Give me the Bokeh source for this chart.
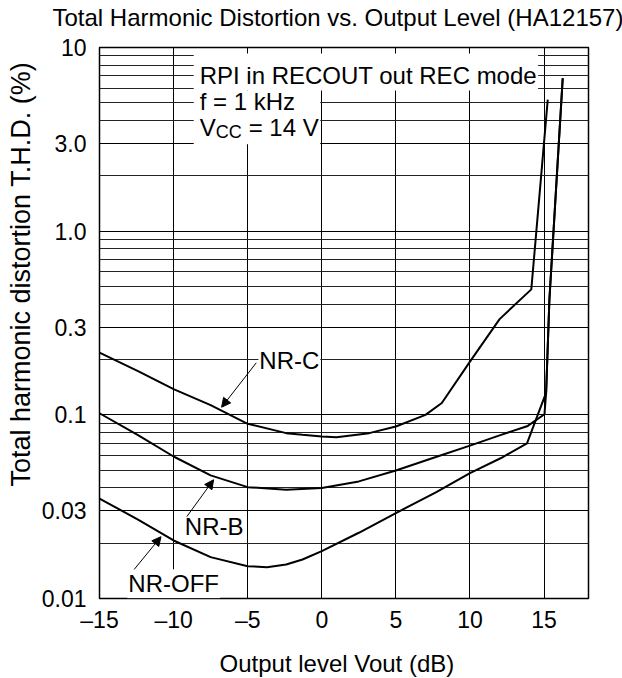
from bokeh.plotting import figure
from bokeh.models import FixedTicker, Label, Arrow, NormalHead, Title
from bokeh.embed import file_html
from bokeh.resources import INLINE

title_text = "Total Harmonic Distortion vs. Output Level (HA12157)"
x_label = "Output level Vout (dB)"
y_label = "Total harmonic distortion T.H.D. (%)"

x_ticks = [-15, -10, -5, 0, 5, 10, 15]
x_tick_labels = ["\u201315", "\u201310", "\u20135", "0", "5", "10", "15"]
y_ticks = [0.01, 0.03, 0.1, 0.3, 1, 3, 10]
y_tick_labels = ["0.01", "0.03", "0.1", "0.3", "1.0", "3.0", "10"]
y_minor = [0.02, 0.04, 0.05, 0.06, 0.07, 0.08, 0.09,
           0.2, 0.4, 0.5, 0.6, 0.7, 0.8, 0.9,
           2, 4, 5, 6, 7, 8, 9]

# NR-C
nrc_x = [-15, -12.4, -10, -7.5, -5, -2.4, -1.3, 0, 1, 3.2, 5, 7, 8.1, 10, 12, 14.14, 15.25]
nrc_y = [0.218, 0.173, 0.138, 0.113, 0.0894, 0.0795, 0.0778, 0.0762, 0.0756, 0.0795,
         0.0864, 0.100, 0.116, 0.195, 0.332, 0.482, 5.2]
# NR-B
nrb_x = [-15, -12.4, -10, -7.5, -5, -2.4, 0, 2.5, 5, 7.7, 10, 12.1, 13.9, 15.03, 15.14, 15.36, 16.26]
nrb_y = [0.102, 0.0776, 0.0593, 0.0468, 0.0404, 0.0391, 0.040, 0.0434, 0.0498, 0.0589,
         0.068, 0.0778, 0.087, 0.1008, 0.132, 0.422, 6.8]
# NR-OFF
nroff_x = [-15, -12.4, -10, -7.5, -5, -3.7, -2.4, -1.3, 0, 2.5, 5, 7.7, 10, 12.1, 13.85, 15.14, 15.36, 16.26]
nroff_y = [0.035, 0.0269, 0.0207, 0.0168, 0.015, 0.0148, 0.0153, 0.0163, 0.0181, 0.0228,
           0.0292, 0.0378, 0.0482, 0.0582, 0.070, 0.132, 0.422, 6.8]

FONT = "Liberation Sans"

p = figure(width=622, height=678, x_range=(-15, 18), y_range=(0.01, 10),
           y_axis_type="log", output_backend="svg", toolbar_location=None, title=None,
           min_border_left=95, min_border_right=34, min_border_top=47, min_border_bottom=79)

p.outline_line_color = "black"
p.outline_line_width = 1.5
p.background_fill_color = "white"
p.border_fill_color = "white"

p.xaxis.ticker = FixedTicker(ticks=x_ticks)
p.xaxis.major_label_overrides = {t: l for t, l in zip(x_ticks, x_tick_labels)}
p.yaxis.ticker = FixedTicker(ticks=y_ticks, minor_ticks=y_minor)
p.yaxis.major_label_overrides = {t: l for t, l in zip(y_ticks, y_tick_labels)}

for ax in (p.xaxis, p.yaxis):
    ax.axis_line_color = None
    ax.major_tick_line_color = None
    ax.minor_tick_line_color = None
    ax.major_tick_out = 0
    ax.major_tick_in = 0
    ax.minor_tick_out = 0
    ax.minor_tick_in = 0
    ax.major_label_text_font = FONT
    ax.major_label_text_font_size = "23px"
    ax.major_label_text_color = "black"

p.xaxis.major_label_standoff = 8
p.yaxis.major_label_standoff = 13

p.xgrid.grid_line_color = "black"
p.xgrid.grid_line_width = 1
p.ygrid.grid_line_color = "black"
p.ygrid.grid_line_width = 1
p.ygrid.minor_grid_line_color = "#222222"
p.ygrid.minor_grid_line_width = 1

# title (above), x label (below), y label (left) -- spacers keep the gaps of the original
p.add_layout(Title(text=" ", text_font_size="1px", standoff=14), "above")
p.add_layout(Title(text=title_text, text_font=FONT, text_font_size="24px",
                   text_font_style="normal", text_color="black",
                   align="left", offset=-47, standoff=0, vertical_align="bottom"), "above")
p.add_layout(Title(text=" ", text_font_size="1px", standoff=11), "below")
p.add_layout(Title(text=x_label, text_font=FONT, text_font_size="24px",
                   text_font_style="normal", text_color="black",
                   align="left", offset=120, standoff=0, vertical_align="top"), "below")
p.add_layout(Title(text=y_label, text_font=FONT, text_font_size="27px",
                   text_font_style="normal", text_color="black",
                   align="left", offset=112, standoff=6, vertical_align="bottom"), "left")

# white boxes behind the condition text
p.quad(left=[-8.64, -8.64], right=[14.6, -0.1], top=[9.28, 5.84], bottom=[5.84, 2.97],
       fill_color="white", line_color=None)

for xs, ys in ((nrc_x, nrc_y), (nrb_x, nrb_y), (nroff_x, nroff_y)):
    p.line(xs, ys, line_color="black", line_width=2)

# condition text
p.add_layout(Label(x=-8.24, y=7.07, text="RPI in RECOUT out REC mode", text_font=FONT,
                   text_font_size="24px", text_baseline="middle", text_color="black"))
p.add_layout(Label(x=-8.24, y=5.09, text="f = 1 kHz", text_font=FONT,
                   text_font_size="24px", text_baseline="middle", text_color="black"))
p.add_layout(Label(x=-8.24, y=3.65, text="V", text_font=FONT,
                   text_font_size="24px", text_baseline="middle", text_color="black"))
p.add_layout(Label(x=-8.24, y=3.65, x_offset=16, y_offset=-4, text="CC", text_font=FONT,
                   text_font_size="18px", text_baseline="middle", text_color="black"))
p.add_layout(Label(x=-8.24, y=3.65, x_offset=49, text="= 14 V", text_font=FONT,
                   text_font_size="24px", text_baseline="middle", text_color="black"))

# curve labels
for lx, ly, txt in ((-4.28, 0.198, "NR-C"), (-9.31, 0.0247, "NR-B"), (-13.12, 0.01202, "NR-OFF")):
    p.add_layout(Label(x=lx, y=ly, text=txt, text_font=FONT, text_font_size="24px",
                       text_baseline="middle", text_color="black",
                       background_fill_color="white", padding=1))

# arrows
for xs_, ys_, xe, ye in ((-4.42, 0.192, -6.76, 0.110),
                         (-9.11, 0.0279, -7.30, 0.0443),
                         (-12.66, 0.0144, -10.85, 0.0217)):
    p.add_layout(Arrow(end=NormalHead(size=9, fill_color="black", line_color="black", line_width=1),
                       x_start=xs_, y_start=ys_, x_end=xe, y_end=ye,
                       line_color="black", line_width=1))

open("out.html", "w").write(file_html(p, INLINE))
